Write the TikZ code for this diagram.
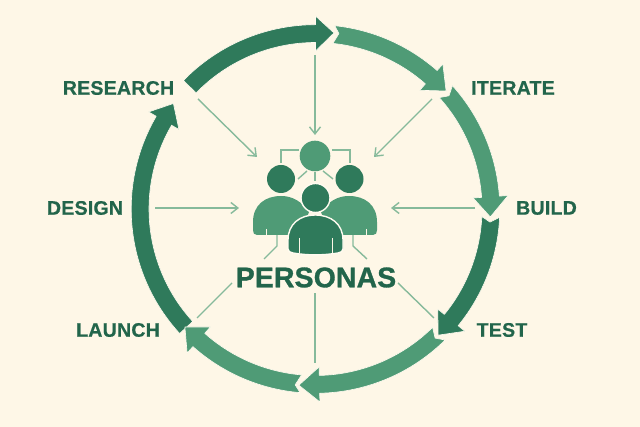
\documentclass[tikz,border=0pt]{standalone}
\usepackage{fontspec}
\setmainfont{Liberation Sans}
\newfontfamily\lblfont{Liberation Sans}[LetterSpace=1.0,BoldFeatures={FakeBold=0.6}]
\newfontfamily\ttlfont{Liberation Sans}[LetterSpace=0.5,BoldFeatures={FakeBold=1.0}]
\usetikzlibrary{arrows.meta}
\definecolor{bgc}{HTML}{FEF7E7}
\definecolor{halo}{HTML}{FFFBF0}
\definecolor{darkg}{HTML}{2F7A5B}
\definecolor{lightg}{HTML}{4F9B76}
\definecolor{textg}{HTML}{22654B}
\definecolor{thing}{HTML}{86BA9B}
% colour, tail angle, base angle, tip angle, tip radius, notch angle, notch radius
\newcommand{\cyclearrow}[7]{%
  \path[fill=#1,draw=halo,line width=0.6pt,line join=round]
    (#2:184.3) arc[start angle=#2,end angle=#3,radius=184.3]
    -- (#3:193) -- (#4:#5) -- (#3:158) -- (#3:166.5)
    arc[start angle=#3,end angle=#2,radius=166.5]
    -- (#6:#7) -- cycle;}
\tikzset{
  steplabel/.style={font=\lblfont\bfseries\fontsize{19.6}{19.6}\selectfont,text=textg,inner sep=0pt},
  titlelabel/.style={font=\ttlfont\bfseries\fontsize{28.4}{28.4}\selectfont,text=textg,inner sep=0pt},
  spoke/.style={draw=thing,line width=1.4pt},
  spokearrow/.style={spoke,-{Straight Barb[length=7pt,width=11pt,line width=1.4pt]}},
  iconline/.style={draw=thing,line width=1.4pt},
  slit/.style={draw=bgc,line width=0.9pt},
  hal/.style={draw=halo,line width=1.4pt}
}
\begin{document}
\begin{tikzpicture}[x=1pt,y=1pt]
\useasboundingbox (0,0) rectangle (640,427);
\fill[bgc] (0,0) rectangle (640,427);
\begin{scope}[shift={(315.5,218)}]
  \cyclearrow{darkg}{222.5}{149.8}{143.4}{177}{222.5}{175}
  \cyclearrow{darkg}{135.8}{90}{84}{177}{135.8}{175}
  \cyclearrow{lightg}{84}{48.7}{42.1}{176}{82.4}{177}
  \cyclearrow{lightg}{42}{4}{-2.6}{175}{40.3}{175}
  \cyclearrow{darkg}{-2.6}{-39.3}{-45.8}{176}{-4.3}{175}
  \cyclearrow{lightg}{-45.3}{-88.7}{-95.4}{177}{-47.2}{176}
  \cyclearrow{lightg}{-94.8}{-131.7}{-137.9}{176}{-96.6}{177}
\end{scope}
\begin{scope}[shift={(0,427)},y=-1pt]
  % labels
  \node[steplabel] (research) at (118.5,88) {RESEARCH};
  \node[steplabel] (iterate) at (513,88) {ITERATE};
  \node[steplabel] (build) at (546.5,208) {BUILD};
  \node[steplabel] (test) at (502,330) {TEST};
  \node[steplabel] (launch) at (118,330) {LAUNCH};
  \node[steplabel] (design) at (85,208) {DESIGN};
  \node[titlelabel] (personas) at (316,277.5) {PERSONAS};
  % spoke ends
  \coordinate (t0) at (315,55);   \coordinate (t1) at (315,135);
  \coordinate (tl0) at (198,99);  \coordinate (tl1) at (257,157);
  \coordinate (tr0) at (432,99);  \coordinate (tr1) at (374,157);
  \coordinate (l0) at (155,208);  \coordinate (l1) at (239,208);
  \coordinate (r0) at (475,208);  \coordinate (r1) at (391,208);
  \coordinate (bl0) at (197,318); \coordinate (bl1) at (232,283);
  \coordinate (b0) at (315,363);  \coordinate (b1) at (315,293);
  \coordinate (br0) at (434,318); \coordinate (br1) at (398,283);
  \draw[spokearrow] (t0) -- (t1);
  \draw[spokearrow] (tl0) -- (tl1);
  \draw[spokearrow] (tr0) -- (tr1);
  \draw[spokearrow] (l0) -- (l1);
  \draw[spokearrow] (r0) -- (r1);
  \draw[spoke] (bl0) -- (bl1);
  \draw[spoke] (b0) -- (b1);
  \draw[spoke] (br0) -- (br1);
  % icon connectors
  \draw[iconline] (299,150) -- (281,150) -- (281,163);
  \draw[iconline] (332,150) -- (350,150) -- (350,163);
  \draw[iconline] (307,171) -- (298,179);
  \draw[iconline] (315,172) -- (315,181);
  \draw[iconline] (323,171) -- (333,179);
  \draw[iconline] (277,235) -- (277,246) -- (264,259);
  \draw[iconline] (353,235) -- (353,246) -- (367,259);
  % people
  \fill[lightg] (257,235) .. controls (254,235) and (253,233) .. (253,230) -- (253,222)
    .. controls (253,205) and (265,196) .. (281,196)
    .. controls (293,196) and (302,202) .. (309,212) -- (300,235) -- cycle;
  \fill[lightg] (373,235) .. controls (376,235) and (377,233) .. (377,230) -- (377,222)
    .. controls (377,205) and (365,196) .. (349,196)
    .. controls (337,196) and (328,202) .. (321,212) -- (330,235) -- cycle;
  \draw[slit] (266,229) -- (266,235);
  \draw[slit] (366,229) -- (366,235);
  \fill[darkg] (281,179) circle[radius=14];
  \fill[darkg] (349.5,179) circle[radius=14];
  \fill[lightg] (315,156) circle[radius=15.3];
  \path[fill=darkg,hal,line join=round] (288,240)
    .. controls (288,224) and (300,215) .. (315,215)
    .. controls (331,215) and (343,224) .. (343,240) -- (343,249)
    .. controls (343,252) and (341,252) .. (338,253)
    .. controls (323,255.5) and (307,255.5) .. (293,253)
    .. controls (290,252) and (288,252) .. (288,249) -- cycle;
  \draw[slit] (299,238) -- (299,253.5);
  \draw[slit] (332,238) -- (332,253.5);
  \path[fill=darkg,hal] (315.5,198) circle[radius=14.5];
\end{scope}
\end{tikzpicture}
\end{document}
